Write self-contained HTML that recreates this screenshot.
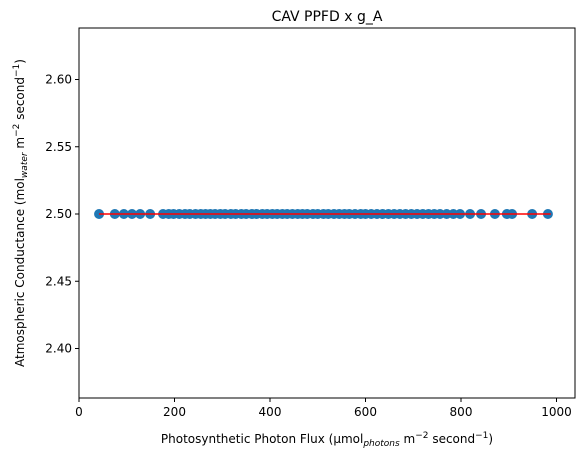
<!DOCTYPE html>
<html><head><meta charset="utf-8"><style>
body{margin:0;background:#fff;font-family:"Liberation Sans","DejaVu Sans",sans-serif;}
</style></head><body>
<svg width="583" height="462" font-family="DejaVu Sans, Liberation Sans, sans-serif">
<text x="327" y="21" text-anchor="middle" font-size="14">CAV PPFD x g_A</text>
<rect x="79" y="28" width="496" height="370" fill="none" stroke="#000" stroke-width="1"/>
<g id="xt" font-size="12"></g><g id="yt" font-size="12"></g>
<g id="pts"></g><g id="ln"></g>
<text x="327" y="443" text-anchor="middle" font-size="12">Photosynthetic Photon Flux (µmol<tspan font-size="9" font-style="italic" dy="3">photons</tspan><tspan dy="-3"> m</tspan><tspan font-size="9" dy="-5">−2</tspan><tspan dy="5"> second</tspan><tspan font-size="9" dy="-5">−1</tspan><tspan dy="5">)</tspan></text>
<text transform="translate(24,213) rotate(-90)" text-anchor="middle" font-size="12">Atmospheric Conductance (mol<tspan font-size="9" font-style="italic" dy="3">water</tspan><tspan dy="-3"> m</tspan><tspan font-size="9" dy="-5">−2</tspan><tspan dy="5"> second</tspan><tspan font-size="9" dy="-5">−1</tspan><tspan dy="5">)</tspan></text>
</svg>
<script>
const xTicks=[0,200,400,600,800,1000];
const yTicks=[2.40,2.45,2.50,2.55,2.60];
const ppfd=[42,75,94,111,128,149,176,188,198,210,222,232,244,255,265,275,285,296,306,318,328,340,350,362,372,384,394,405,415,426,436,447,458,468,478,490,500,512,522,534,545,556,566,578,590,600,612,624,636,648,660,672,684,696,708,720,732,744,756,770,784,798,819,842,871,896,907,949,982];
const gA=ppfd.map(()=>2.5);
const fitX=[42,988], fitY=[2.5,2.5];
const X=v=>79+v*0.4775, Y=v=>214-(v-2.5)*1345;
const ns="http://www.w3.org/2000/svg";
function mk(t,a,p){const e=document.createElementNS(ns,t);for(const k in a)e.setAttribute(k,a[k]);p.appendChild(e);return e;}
const xt=document.getElementById('xt'),yt=document.getElementById('yt');
xTicks.forEach(v=>{const g=mk('g',{},xt);


mk('line',{x1:X(v),x2:X(v),y1:398,y2:402,stroke:'#000'},g);
const t=mk('text',{x:X(v),y:416,'text-anchor':'middle'},g);t.textContent=v;});
yTicks.forEach(v=>{const g=mk('g',{},yt);


mk('line',{x1:75,x2:79,y1:Y(v),y2:Y(v),stroke:'#000'},g);
const t=mk('text',{x:72,y:Y(v)+4,'text-anchor':'end'},g);t.textContent=v.toFixed(2);});
const pts=document.getElementById('pts');
ppfd.forEach((v,i)=>{const c=mk('circle',{cx:X(v),cy:Y(gA[i]),r:5,fill:'#1f77b4'},pts);

});
const l=mk('line',{x1:X(fitX[0]),x2:X(fitX[1]),y1:Y(fitY[0]),y2:Y(fitY[1]),stroke:'red','stroke-width':1.5},document.getElementById('ln'));


</script>
</body></html>
